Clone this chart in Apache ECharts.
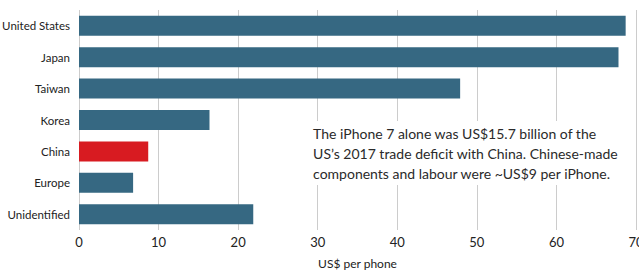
<!DOCTYPE html>
<html><head><meta charset="utf-8">
<script src="https://cdn.jsdelivr.net/npm/echarts@6/dist/echarts.min.js"></script>
<style>html,body{margin:0;padding:0;background:#fff}#c{width:639px;height:272px}</style>
</head><body><div id="c"></div>
<script>
const categories = ['United States','Japan','Taiwan','Korea','China','Europe','Unidentified'];
const values = [68.7, 67.8, 47.9, 16.4, 8.7, 6.8, 21.9];
const highlight = 'China';
const xTicks = [0, 10, 20, 30, 40, 50, 60, 70];
const note = ['The iPhone 7 alone was US$15.7 billion of the', 'US\u2019s 2017 trade deficit with China. Chinese-made', 'components and labour were ~US$9 per iPhone.'];

const FONT = 'Lato, Roboto, sans-serif';
const chart = echarts.init(document.getElementById('c'), null, {renderer: 'svg'});
chart.setOption({
  animation: false,
  grid: {left: 79, right: 3, top: 10, bottom: 42, outerBoundsMode: 'none', containLabel: false},
  xAxis: {
    type: 'value', min: xTicks[0], max: xTicks[xTicks.length-1], interval: 10,
    axisLine: {show: false}, axisTick: {show: false},
    splitLine: {lineStyle: {color: '#cccccc', width: 1}},
    axisLabel: {color: '#222', fontSize: 13, fontFamily: FONT, margin: 5},
    name: 'US$ per phone', nameLocation: 'middle', nameGap: 27,
    nameTextStyle: {color: '#222', fontSize: 12, fontFamily: FONT}
  },
  yAxis: {
    type: 'category', data: categories, inverse: true,
    axisLine: {show: false}, axisTick: {show: false},
    axisLabel: {color: '#222', fontSize: 11.5, fontFamily: FONT, margin: 9}
  },
  graphic: [{
    type: 'text', right: 19, top: 121, z: 100,
    style: {
      text: note.join('\n'), align: 'right', fill: '#2a2a2a',
      font: '14px ' + FONT, lineHeight: 20,
      backgroundColor: '#fff', padding: [2, 2, 2, 2]
    }
  }],
  series: [{
    type: 'bar', barWidth: 20,
    data: values.map((v, i) => ({value: v, itemStyle: {color: categories[i] === highlight ? '#d81b21' : '#366882'}}))
  }]
});
</script></body></html>
